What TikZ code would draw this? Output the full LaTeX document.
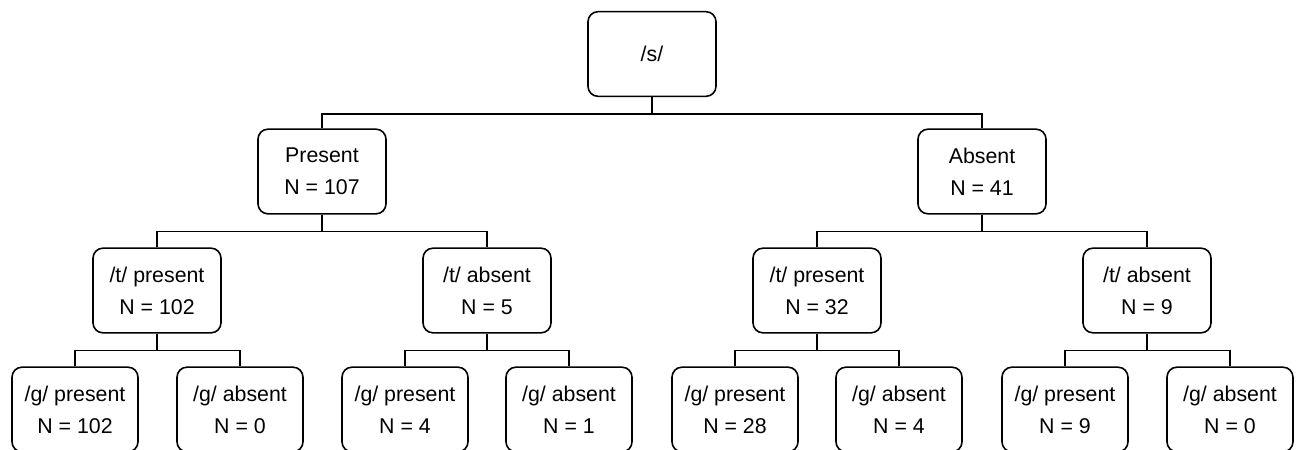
\documentclass[tikz,border=0pt]{standalone}
\usepackage{fontspec}
\setmainfont{Liberation Sans}
\begin{document}
\begin{tikzpicture}[x=0.75pt,y=-0.75pt,
  box/.style={draw=black,line width=1.2pt,rounded corners=7.5pt,minimum width=96pt,minimum height=63.5pt,align=center,font=\fontsize{16}{24}\selectfont,inner sep=0pt},
  leaf/.style={box,minimum width=94.5pt},
  conn/.style={draw=black,line width=1.2pt}]
\useasboundingbox (0,0) rectangle (1304,450);
\clip (0,0) rectangle (1304,450);
\node[box] (root) at (652,54) {/s/};
\node[box] (pres) at (322,171.5) {Present\\N = 107};
\node[box] (abs) at (982,171.5) {Absent\\N = 41};
\node[box] (tp1) at (157,290.5) {/t/ present\\N = 102};
\node[box] (ta1) at (487,290.5) {/t/ absent\\N = 5};
\node[box] (tp2) at (817,290.5) {/t/ present\\N = 32};
\node[box] (ta2) at (1147,290.5) {/t/ absent\\N = 9};
\node[leaf] (g1) at (75,409.5) {/g/ present\\N = 102};
\node[leaf] (g2) at (240,409.5) {/g/ absent\\N = 0};
\node[leaf] (g3) at (405,409.5) {/g/ present\\N = 4};
\node[leaf] (g4) at (569,409.5) {/g/ absent\\N = 1};
\node[leaf] (g5) at (735,409.5) {/g/ present\\N = 28};
\node[leaf] (g6) at (899,409.5) {/g/ absent\\N = 4};
\node[leaf] (g7) at (1065,409.5) {/g/ present\\N = 9};
\node[leaf] (g8) at (1230,409.5) {/g/ absent\\N = 0};
% connectors
\draw[conn] (root.south) -- ++(0,17) coordinate (j0);
\draw[conn] (pres.north) |- (j0) -| (abs.north);
\draw[conn] (pres.south) -- ++(0,17) coordinate (j1);
\draw[conn] (tp1.north) |- (j1) -| (ta1.north);
\draw[conn] (abs.south) -- ++(0,17) coordinate (j2);
\draw[conn] (tp2.north) |- (j2) -| (ta2.north);
\draw[conn] (tp1.south) -- ++(0,17) coordinate (k1);
\draw[conn] (g1.north) |- (k1) -| (g2.north);
\draw[conn] (ta1.south) -- ++(0,17) coordinate (k2);
\draw[conn] (g3.north) |- (k2) -| (g4.north);
\draw[conn] (tp2.south) -- ++(0,17) coordinate (k3);
\draw[conn] (g5.north) |- (k3) -| (g6.north);
\draw[conn] (ta2.south) -- ++(0,17) coordinate (k4);
\draw[conn] (g7.north) |- (k4) -| (g8.north);
\end{tikzpicture}
\end{document}
